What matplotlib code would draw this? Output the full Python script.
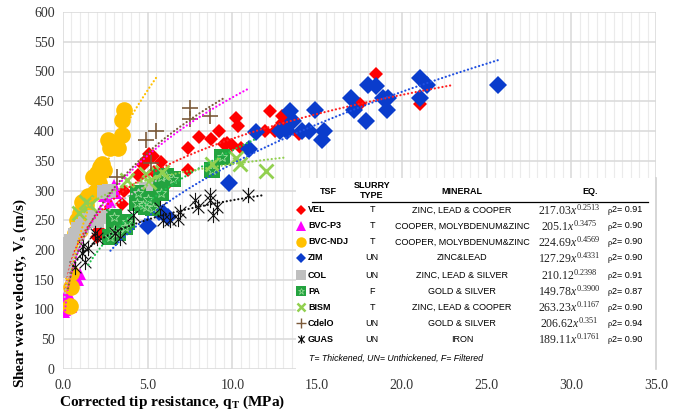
import matplotlib
matplotlib.use("Agg")
import matplotlib.pyplot as plt
import numpy as np
from matplotlib.path import Path
from matplotlib.patches import Rectangle
from matplotlib.lines import Line2D

plt.rcParams['mathtext.fontset'] = 'custom'
plt.rcParams['mathtext.rm'] = 'Liberation Serif'
plt.rcParams['mathtext.it'] = 'Liberation Serif:italic'
plt.rcParams['mathtext.bf'] = 'Liberation Serif:bold'

# ---------------- data ----------------
VEL_x = [0.3, 2.0, 2.1, 2.2, 2.6, 2.7, 3.5, 3.6, 4.4, 4.7, 4.9, 5.1, 5.3, 5.35, 5.8, 6.05,
         7.4, 7.4, 8.05, 8.75, 9.2, 9.5, 9.7, 10.0, 10.2, 10.3, 10.5, 11.9, 12.2, 12.5,
         12.9, 12.9, 13.2, 13.9, 17.5, 18.5, 21.1]
VEL_v = [205, 222, 233, 302, 262, 252, 277, 300, 326, 343, 352, 361, 358, 331, 348, 309,
         371, 334, 390, 386, 400, 378, 379, 376, 422, 409, 372, 400, 434, 400,
         425, 414, 415, 395, 445, 496, 445]

P3_x = [0.05, 0.1, 0.15, 0.2, 0.25, 0.3, 0.35, 0.4, 0.5, 0.9, 1.0, 2.2, 2.4, 2.6, 2.8, 2.9, 3.0, 3.1]
P3_v = [95, 100, 110, 120, 130, 115, 125, 140, 105, 150, 160, 265, 290, 262, 280, 300, 309, 295]

NDJ_x = [0.4, 0.5, 0.5, 0.7, 0.8, 1.0, 1.0, 1.1, 1.3, 1.35, 1.5, 1.8, 1.9, 2.0, 2.15, 2.2, 2.3,
         2.4, 2.65, 2.8, 3.25, 3.5, 3.5, 3.6]
NDJ_v = [106, 138, 161, 228, 250, 233, 262, 280, 284, 275, 290, 323, 298, 330, 312, 340, 345,
         335, 385, 371, 371, 393, 418, 435]

ZIM_x = [5.0, 5.65, 5.9, 6.2, 9.8, 11.0, 11.4, 12.8, 13.2, 13.4, 13.55, 14.1, 14.5, 14.9, 15.3,
         15.4, 17.0, 17.2, 17.9, 18.0, 18.5, 18.9, 19.1, 19.2, 21.05, 21.1, 21.5, 25.7]
ZIM_v = [240, 264, 262, 256, 313, 370, 399, 400, 400, 434, 417, 400, 400, 435, 385,
         400, 455, 435, 417, 477, 476, 455, 435, 455, 489, 455, 477, 477]

COL_x = [0.1, 0.15, 0.2, 0.3, 0.35, 0.5, 0.7, 0.9, 1.1, 1.3, 1.5, 1.7, 2.0, 2.2, 2.4, 2.7, 4.4, 4.9]
COL_v = [165, 180, 195, 210, 200, 215, 225, 235, 240, 245, 250, 255, 248, 255, 298, 300, 292, 303]

PA_x = [2.8, 3.0, 3.0, 3.25, 3.65, 3.8, 4.35, 4.4, 4.7, 4.9, 5.0, 5.3, 5.8, 5.8, 6.1, 6.5, 8.8, 9.4]
PA_v = [222, 256, 233, 228, 239, 247, 279, 295, 275, 273, 286, 270, 295, 323, 325, 320, 334, 357]

BISM_x = [0.93, 1.35, 1.6, 3.75, 4.9, 5.1, 5.85, 8.8, 10.2, 10.45, 12.0]
BISM_v = [262, 281, 275, 318, 327, 315, 331, 345, 355, 345, 332]

CDE_x = [3.2, 4.9, 5.2, 5.5, 7.5, 7.5, 8.65]
CDE_v = [322, 385, 346, 400, 438, 420, 425]

GUAS_x = [0.7, 1.1, 1.2, 1.3, 1.5, 1.9, 2.0, 3.05, 3.35, 4.15, 5.7, 5.9, 6.3, 6.8, 6.9, 7.8,
          7.95, 8.65, 8.65, 8.85, 9.1, 10.9]
GUAS_v = [172, 195, 206, 180, 204, 228, 220, 228, 220, 259, 270, 250, 250, 252, 264, 284,
          273, 292, 284, 259, 273, 292]

# power-law trend lines  V = a * q^b
TREND_a = [217.03, 205.1, 224.69, 127.29, 210.12, 149.78, 263.23, 206.62, 189.11]
TREND_b = [0.2513, 0.3475, 0.4569, 0.4331, 0.2398, 0.3900, 0.1167, 0.351, 0.1761]
TREND_lo = [0.15, 0.1, 0.3, 2.8, 0.1, 1.5, 0.7, 0.3, 0.6]
TREND_hi = [22.9, 11.05, 5.5, 25.7, 5.5, 11.4, 13.05, 9.6, 11.8]

TSF = ['VEL', 'BVC-P3', 'BVC-NDJ', 'ZIM', 'COL', 'PA', 'BISM', 'CdelO', 'GUAS']
SLURRY = ['T', 'T', 'T', 'UN', 'UN', 'F', 'T', 'UN', 'UN']
MINERAL = ['ZINC, LEAD & COOPER', 'COOPER, MOLYBDENUM&ZINC', 'COOPER, MOLYBDENUM&ZINC',
           'ZINC&LEAD', 'ZINC, LEAD & SILVER', 'GOLD & SILVER', 'ZINC, LEAD & COOPER',
           'GOLD & SILVER', 'IRON']
EQS = [r'$217.03x^{0.2513}$', r'$205.1x^{0.3475}$', r'$224.69x^{0.4569}$',
       r'$127.29x^{0.4331}$', r'$210.12^{0.2398}$', r'$149.78x^{0.3900}$',
       r'$263.23x^{0.1167}$', r'$206.62x^{0.351}$', r'$189.11x^{0.1761}$']
R2 = ['0.91', '0.90', '0.90', '0.90', '0.91', '0.87', '0.90', '0.94', '0.90']

X_TICKS = [0, 5, 10, 15, 20, 25, 30, 35]
Y_TICKS = list(range(0, 601, 50))

# ---------------- styles ----------------
star = Path([(-1, -1), (1, 1), (-1, 1), (1, -1), (0, -1.3), (0, 1.3)],
            [Path.MOVETO, Path.LINETO, Path.MOVETO, Path.LINETO, Path.MOVETO, Path.LINETO])

line_colors = ['#FF2020', '#FF00FF', '#FFC000', '#1F4FE0', '#BFBFBF', '#1FBF4F', '#92D050', '#7B5A3A', '#111111']
styles = [
    dict(marker='D', ms=7, mec='#FF0000', mfc='#FF0000', mew=0),
    dict(marker='^', ms=8.5, mec='#FF00FF', mfc='#FF00FF', mew=0),
    dict(marker='o', ms=12, mec='#FFC000', mfc='#FFC000', mew=0),
    dict(marker='D', ms=9.5, mec='#0A3CCC', mfc='#0A3CCC', mew=0),
    dict(marker='s', ms=9.5, mec='#BFBFBF', mfc='#BFBFBF', mew=0),
    dict(marker='s', ms=11.5, mec='#23A33F', mfc='#23A33F', mew=0),
    dict(marker='x', ms=10, mec='#92D050', mfc='none', mew=2.0),
    dict(marker='+', ms=11, mec='#7B5A3A', mfc='none', mew=1.2),
    dict(marker=star, ms=11, mec='#111111', mfc='none', mew=0.8),
]
leg_styles = [
    dict(marker='D', ms=5, mec='#FF0000', mfc='#FF0000', mew=0),
    dict(marker='^', ms=7, mec='#FF00FF', mfc='#FF00FF', mew=0),
    dict(marker='o', ms=7.5, mec='#FFC000', mfc='#FFC000', mew=0),
    dict(marker='D', ms=5, mec='#0A3CCC', mfc='#0A3CCC', mew=0),
    dict(marker='s', ms=7, mec='#BFBFBF', mfc='#BFBFBF', mew=0),
    dict(marker='s', ms=7, mec='#23A33F', mfc='#23A33F', mew=0),
    dict(marker='x', ms=6, mec='#92D050', mfc='none', mew=1.8),
    dict(marker='+', ms=7, mec='#7B5A3A', mfc='none', mew=1.0),
    dict(marker=star, ms=6, mec='#111111', mfc='none', mew=0.9),
]

series = [(VEL_x, VEL_v), (P3_x, P3_v), (NDJ_x, NDJ_v), (ZIM_x, ZIM_v), (COL_x, COL_v),
          (PA_x, PA_v), (BISM_x, BISM_v), (CDE_x, CDE_v), (GUAS_x, GUAS_v)]

W, H = 682, 412
fig = plt.figure(figsize=(W / 100, H / 100), dpi=100)
L, R, T, B = 63, 656, 12, 369
ax = fig.add_axes([L / W, 1 - B / H, (R - L) / W, (B - T) / H])

for i, (xs, vs) in enumerate(series):
    ax.plot(xs, vs, linestyle='none', zorder=3 + i * 0.01, **styles[i])
    if i == 5:
        ax.plot(xs, vs, linestyle='none', marker='*', ms=7, mfc='none', mec='#9ADB9A',
                mew=0.6, zorder=3 + i * 0.01 + 0.005)

for i in range(len(TREND_a)):
    q = np.linspace(TREND_lo[i], TREND_hi[i], 300)
    ax.plot(q, TREND_a[i] * q ** TREND_b[i], linestyle=(0, (0.05, 1.7)), lw=1.6,
            color=line_colors[i], zorder=4, dash_capstyle='round')

ax.set_xlim(0, 35)
ax.set_ylim(0, 600)
ax.set_xticks(X_TICKS)
ax.set_xticklabels(['%.1f' % t for t in X_TICKS])
ax.set_yticks(Y_TICKS)
ax.set_xticks(np.arange(0, 35.01, 0.5), minor=True)
ax.grid(True, which='major', color='#D9D9D9', lw=1.1, zorder=0)
ax.grid(True, which='minor', axis='x', color='#EBEBEB', lw=0.8, zorder=0)
ax.set_axisbelow(True)
for s in ax.spines.values():
    s.set_visible(False)
ax.tick_params(which='both', length=0)
ax.tick_params(axis='x', pad=7)
ax.tick_params(axis='y', pad=6)
for lab in ax.get_xticklabels() + ax.get_yticklabels():
    lab.set_fontfamily('Liberation Serif')
    lab.set_fontsize(10)
    lab.set_color('#333333')

W_, H_ = W, H
fig.text(172 / W_, 1 - 402 / H_, r'Corrected tip resistance, $\mathbf{q_T}$ (MPa)',
         fontfamily='Liberation Serif', fontweight='bold', fontsize=11, ha='center', va='center')
fig.text(20 / W_, 1 - 293 / H_, r'Shear wave velocity, $\mathbf{V_s}$ (m/s)',
         fontfamily='Liberation Serif', fontweight='bold', fontsize=11, ha='center', va='center',
         rotation=90)

# ---------------- table legend ----------------
def fx(x):
    return x / W

def fy(y):
    return 1 - y / H

tf = fig.transFigure
ax.add_patch(Rectangle((fx(296), fy(369)), fx(656) - fx(296), fy(178) - fy(369), transform=tf,
                       facecolor='white', edgecolor='none', zorder=10, clip_on=False))
ax.add_line(Line2D([fx(655.5), fx(655.5)], [fy(178), fy(369)], transform=tf, color='#D0D0D0',
                   lw=1.2, zorder=10.5, clip_on=False))
ax.add_line(Line2D([fx(312), fx(648)], [fy(202), fy(202)], transform=tf, color='black',
                   lw=0.9, zorder=11, clip_on=False))

hdr = dict(transform=tf, fontfamily='Liberation Sans', fontweight='bold', fontsize=6.5,
           ha='center', va='center', zorder=12)
ax.text(fx(328), fy(191), 'TSF', **hdr)
ax.text(fx(372), fy(185), 'SLURRY', **hdr)
ax.text(fx(372), fy(196), 'TYPE', **hdr)
ax.text(fx(462), fy(191), 'MINERAL', **hdr)
ax.text(fx(590), fy(191), 'EQ.', **hdr)

row_y = [210, 226, 242, 258, 275, 291, 307, 323, 339]
for i in range(len(TSF)):
    y = fy(row_y[i])
    ax.plot([fx(301)], [y], transform=tf, linestyle='none', clip_on=False, zorder=12, **leg_styles[i])
    if i == 5:
        ax.plot([fx(301)], [y], transform=tf, linestyle='none', marker='*', ms=5, mfc='none',
                mec='#9ADB9A', mew=0.5, clip_on=False, zorder=12.5)
    ax.text(fx(308), y, TSF[i], transform=tf, fontfamily='Liberation Sans', fontweight='bold',
            fontsize=6.5, ha='left', va='center', zorder=12)
    ax.text(fx(372), y, SLURRY[i], transform=tf, fontfamily='Liberation Sans', fontsize=6.5,
            ha='center', va='center', zorder=12)
    ax.text(fx(462), y, MINERAL[i], transform=tf, fontfamily='Liberation Sans', fontsize=6.5,
            ha='center', va='center', zorder=12)
    ax.text(fx(569), y, EQS[i], transform=tf, fontsize=8.5, ha='center', va='center',
            zorder=12, color='#222222')
    ax.text(fx(608), y - 0.003, '\u03c1', transform=tf, fontfamily='Liberation Serif', fontsize=6,
            ha='left', va='center', zorder=12)
    ax.text(fx(612), y, '2= ' + R2[i], transform=tf, fontfamily='Liberation Sans', fontsize=6.5,
            ha='left', va='center', zorder=12)

ax.text(fx(309), fy(358), 'T= Thickened, UN= Unthickened, F= Filtered', transform=tf,
        fontfamily='Liberation Sans', fontstyle='italic', fontsize=6.3, ha='left', va='center',
        zorder=12)

fig.savefig('out.png', dpi=100)
